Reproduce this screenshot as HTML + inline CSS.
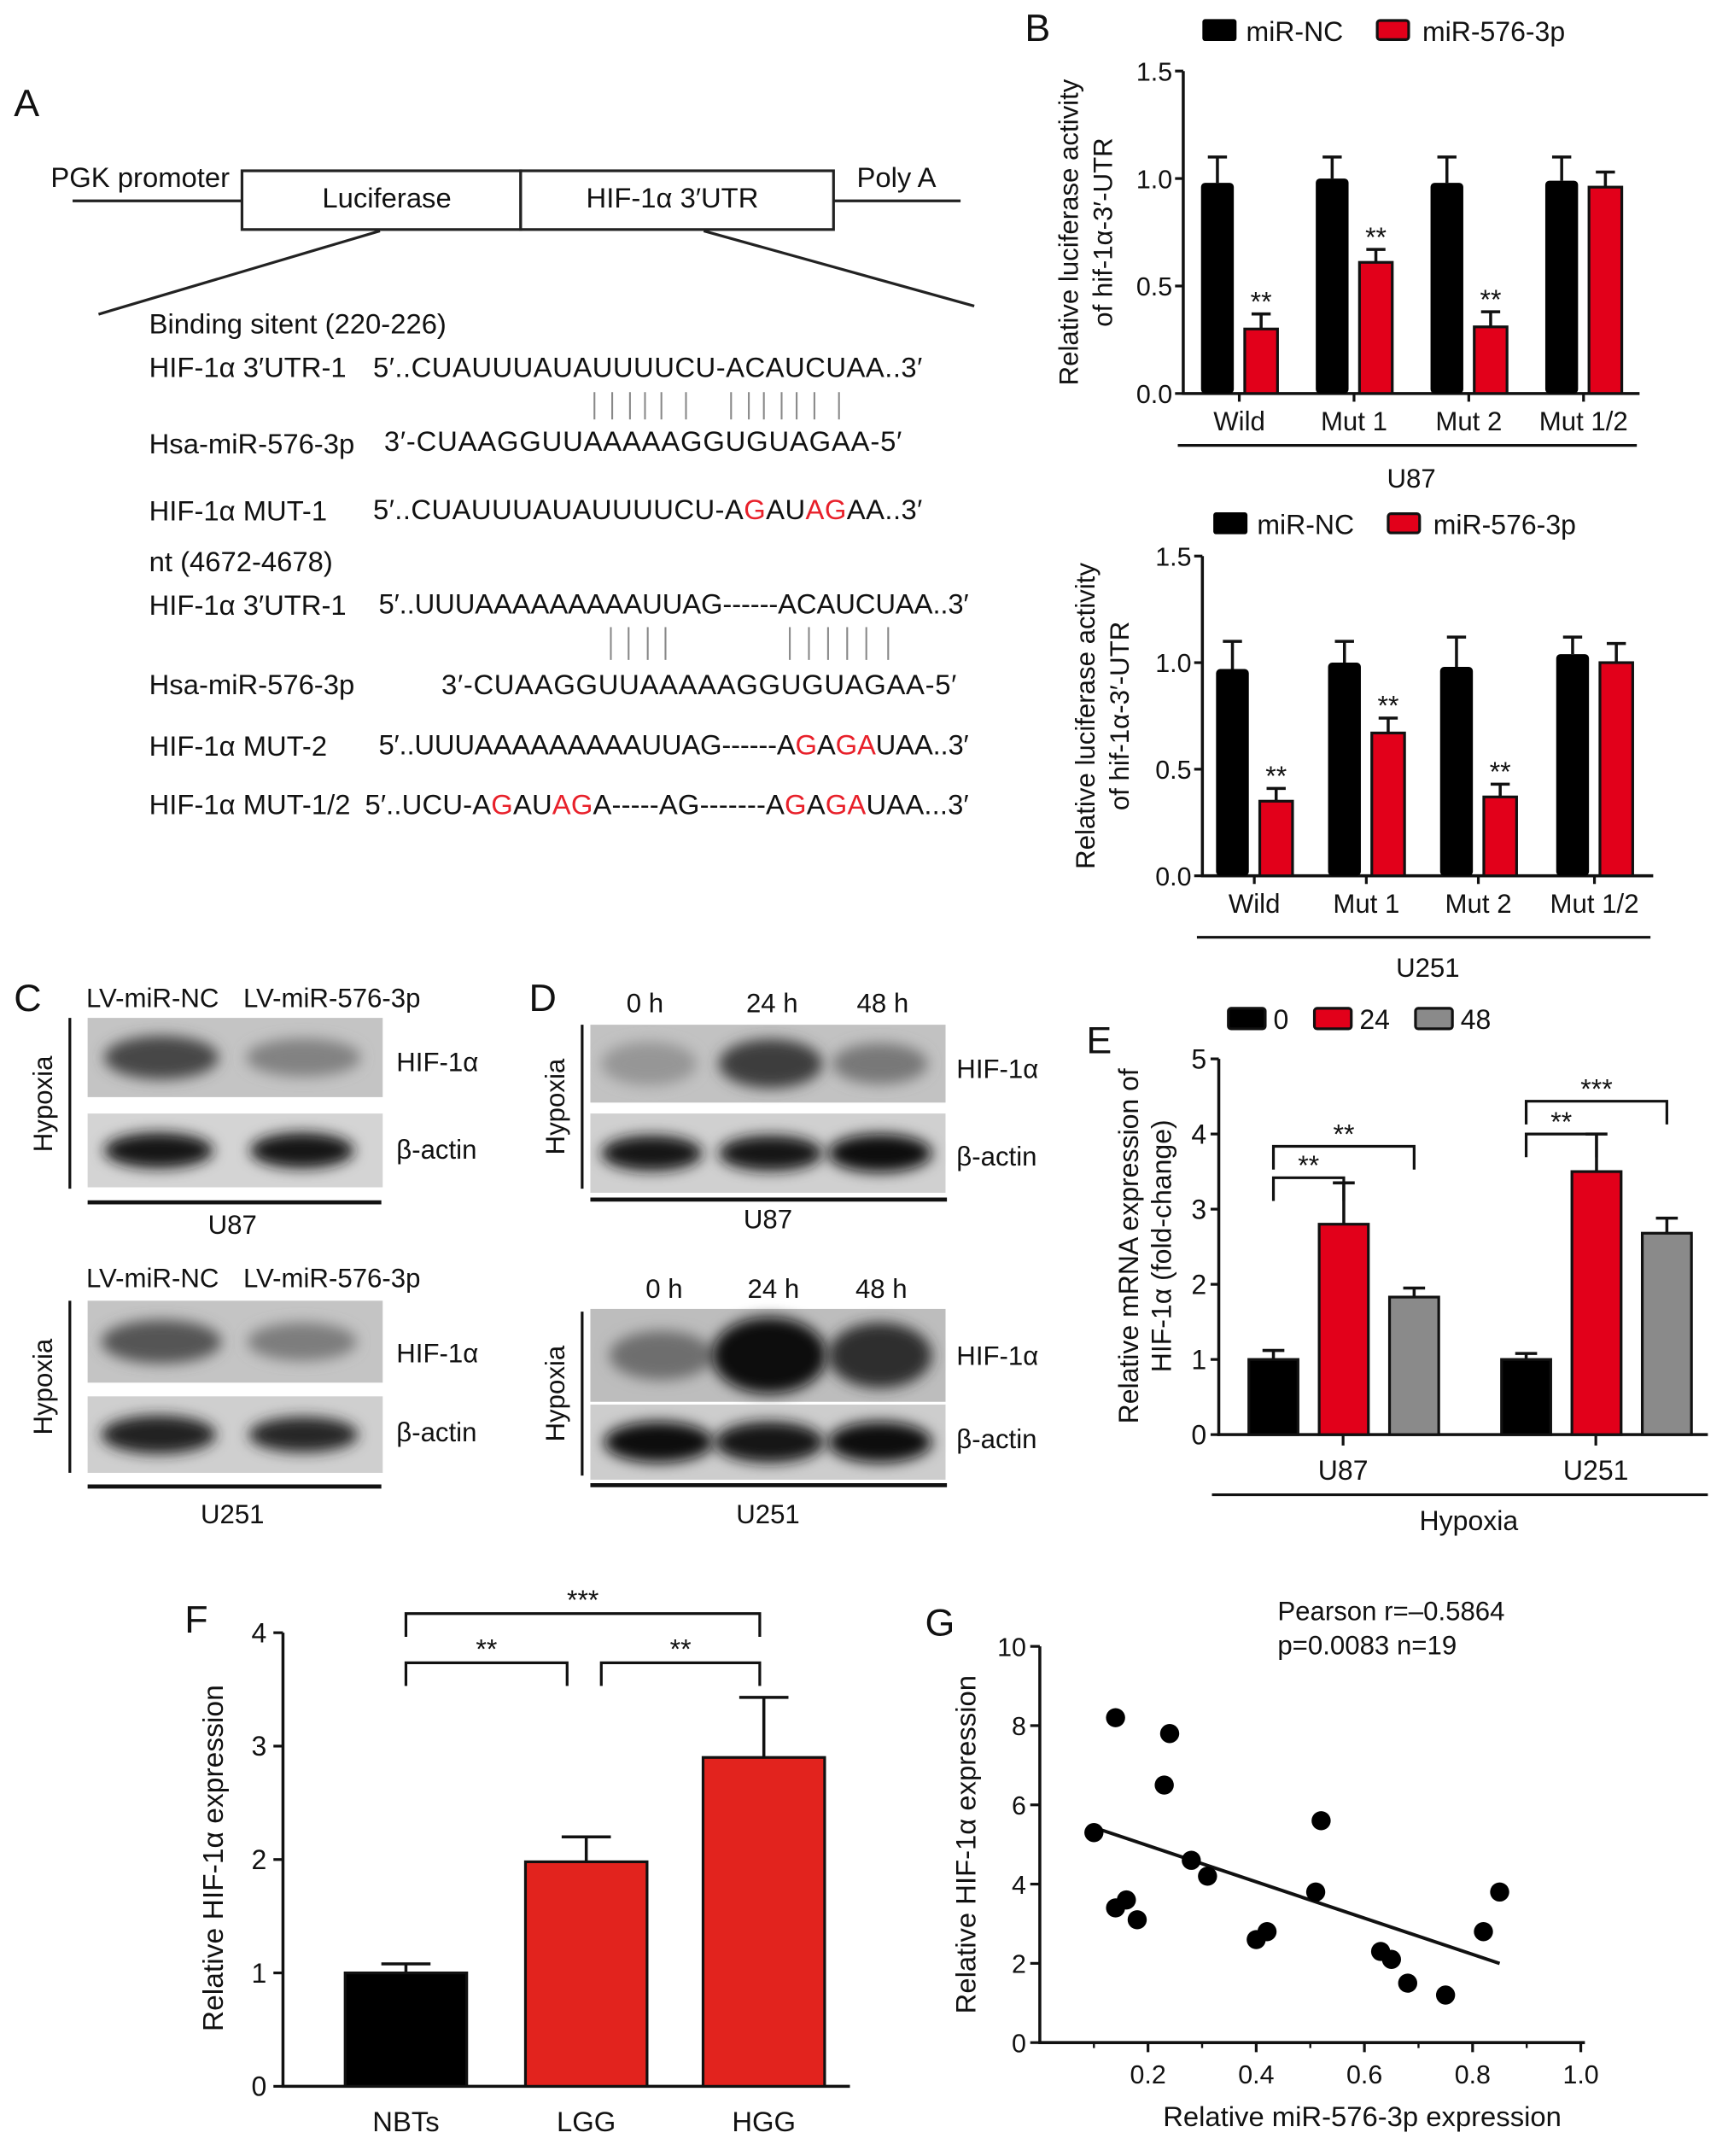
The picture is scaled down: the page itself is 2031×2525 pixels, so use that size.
<!DOCTYPE html>
<html><head><meta charset="utf-8"><style>
html,body{margin:0;padding:0;background:#fff}
svg{display:block}
text{font-family:"Liberation Sans",Arial,sans-serif;fill:#111}
</style></head><body>
<svg id="fig" width="2031" height="2525" viewBox="0 0 1269 1578" xmlns="http://www.w3.org/2000/svg">
<defs>
<filter id="blur4" x="-30%" y="-60%" width="160%" height="220%"><feGaussianBlur stdDeviation="5"/></filter>
</defs>
<g id="panelA" font-size="20.5">
<text x="10" y="85" font-size="28">A</text>
<line x1="53" y1="147" x2="177" y2="147" stroke="#222" stroke-width="2"/>
<line x1="610" y1="147" x2="703" y2="147" stroke="#222" stroke-width="2"/>
<rect x="177" y="125" width="204" height="43" fill="#fff" stroke="#222" stroke-width="2"/>
<rect x="381" y="125" width="229" height="43" fill="#fff" stroke="#222" stroke-width="2"/>
<text x="37" y="137">PGK promoter</text>
<text x="627" y="137">Poly A</text>
<text x="283" y="152" text-anchor="middle">Luciferase</text>
<text x="492" y="152" text-anchor="middle">HIF-1α 3′UTR</text>
<line x1="278" y1="169" x2="72" y2="230" stroke="#222" stroke-width="2"/>
<line x1="515" y1="169" x2="713" y2="224" stroke="#222" stroke-width="2"/>
<text x="109" y="244">Binding sitent (220-226)</text>
<text x="109" y="276">HIF-1α 3′UTR-1</text>
<text x="273" y="276" textLength="402">5′..CUAUUUAUAUUUUCU-ACAUCUAA..3′</text>
<g stroke="#888" stroke-width="1.3">
<line x1="435" y1="287" x2="435" y2="307"/><line x1="448" y1="287" x2="448" y2="307"/><line x1="461" y1="287" x2="461" y2="307"/><line x1="472" y1="287" x2="472" y2="307"/><line x1="484" y1="287" x2="484" y2="307"/><line x1="502" y1="287" x2="502" y2="307"/><line x1="535" y1="287" x2="535" y2="307"/><line x1="548" y1="287" x2="548" y2="307"/><line x1="559" y1="287" x2="559" y2="307"/><line x1="572" y1="287" x2="572" y2="307"/><line x1="583" y1="287" x2="583" y2="307"/><line x1="596" y1="287" x2="596" y2="307"/><line x1="614" y1="287" x2="614" y2="307"/>
</g>
<text x="109" y="332">Hsa-miR-576-3p</text>
<text x="281" y="330" textLength="379">3′-CUAAGGUUAAAAAGGUGUAGAA-5′</text>
<text x="109" y="381">HIF-1α MUT-1</text>
<text x="273" y="380" textLength="402">5′..CUAUUUAUAUUUUCU-A<tspan fill="#e8202a">G</tspan>AU<tspan fill="#e8202a">AG</tspan>AA..3′</text>
<text x="109" y="418">nt (4672-4678)</text>
<text x="109" y="450">HIF-1α 3′UTR-1</text>
<text x="277" y="449" textLength="432">5′..UUUAAAAAAAAAUUAG------ACAUCUAA..3′</text>
<g stroke="#888" stroke-width="1.3">
<line x1="447" y1="459" x2="447" y2="483"/><line x1="460" y1="459" x2="460" y2="483"/><line x1="474" y1="459" x2="474" y2="483"/><line x1="487" y1="459" x2="487" y2="483"/><line x1="578" y1="459" x2="578" y2="483"/><line x1="592" y1="459" x2="592" y2="483"/><line x1="606" y1="459" x2="606" y2="483"/><line x1="620" y1="459" x2="620" y2="483"/><line x1="634" y1="459" x2="634" y2="483"/><line x1="650" y1="459" x2="650" y2="483"/>
</g>
<text x="109" y="508">Hsa-miR-576-3p</text>
<text x="323" y="508" textLength="377">3′-CUAAGGUUAAAAAGGUGUAGAA-5′</text>
<text x="109" y="553">HIF-1α MUT-2</text>
<text x="277" y="552" textLength="432">5′..UUUAAAAAAAAAUUAG------A<tspan fill="#e8202a">G</tspan>A<tspan fill="#e8202a">GA</tspan>UAA..3′</text>
<text x="109" y="596">HIF-1α MUT-1/2</text>
<text x="267" y="596" textLength="442">5′..UCU-A<tspan fill="#e8202a">G</tspan>AU<tspan fill="#e8202a">AG</tspan>A-----AG-------A<tspan fill="#e8202a">G</tspan>A<tspan fill="#e8202a">GA</tspan>UAA...3′</text>
</g>
<g id="charts"></g>
<g id="blots"></g>
</svg>
<script>
// ===== Panel B data =====
var bCategories = ["Wild", "Mut 1", "Mut 2", "Mut 1/2"];
var bSeries = ["miR-NC", "miR-576-3p"];
var bU87NC = [0.98, 1.00, 0.98, 0.99];
var bU87NCErr = [0.12, 0.10, 0.12, 0.11];
var bU87Mir = [0.30, 0.61, 0.31, 0.96];
var bU87MirErr = [0.07, 0.06, 0.07, 0.07];
var bU87Sig = ["**", "**", "**", ""];
var bU251NC = [0.97, 1.00, 0.98, 1.04];
var bU251NCErr = [0.13, 0.10, 0.14, 0.08];
var bU251Mir = [0.35, 0.67, 0.37, 1.00];
var bU251MirErr = [0.06, 0.07, 0.06, 0.09];
var bU251Sig = ["**", "**", "**", ""];
var bTicks = [0, 0.5, 1.0, 1.5];
var bTickLabels = ["0.0", "0.5", "1.0", "1.5"];
// ===== Panel E data =====
var eCategories = ["U87", "U251"];
var eSeries = ["0", "24", "48"];
var eVal0 = [1.0, 1.0];
var eErr0 = [0.12, 0.08];
var eVal24 = [2.8, 3.5];
var eErr24 = [0.55, 0.5];
var eVal48 = [1.83, 2.68];
var eErr48 = [0.12, 0.2];
var eTicks = [0, 1, 2, 3, 4, 5];
// ===== Panel F data =====
var fCategories = ["NBTs", "LGG", "HGG"];
var fValues = [1.0, 1.98, 2.9];
var fErrors = [0.08, 0.22, 0.53];
var fTicks = [0, 1, 2, 3, 4];
// ===== Panel G data =====
var gX = [0.14, 0.24, 0.23, 0.10, 0.52, 0.28, 0.31, 0.14, 0.16, 0.18, 0.40, 0.42, 0.51, 0.63, 0.65, 0.68, 0.75, 0.82, 0.85];
var gY = [8.2, 7.8, 6.5, 5.3, 5.6, 4.6, 4.2, 3.4, 3.6, 3.1, 2.6, 2.8, 3.8, 2.3, 2.1, 1.5, 1.2, 2.8, 3.8];
var gXTicks = [0.2, 0.4, 0.6, 0.8, 1.0];
var gXTickLabels = ["0.2", "0.4", "0.6", "0.8", "1.0"];
var gYTicks = [0, 2, 4, 6, 8, 10];

var NS = "http://www.w3.org/2000/svg";
var root = document.getElementById("charts");
function mk(tag, attrs, parent, txt) {
  var e = document.createElementNS(NS, tag);
  for (var k in attrs) e.setAttribute(k, attrs[k]);
  if (txt !== undefined) e.textContent = txt;
  (parent || root).appendChild(e);
  return e;
}
function grp(name) {
  var g = mk("g", {});
  
  
  return g;
}
var RED = "#e2001a";

function errbar(g, cx, yTop, yErr, cap) {
  mk("line", {x1: cx, y1: yTop, x2: cx, y2: yErr, stroke: "#111", "stroke-width": 2.2}, g);
  mk("line", {x1: cx - cap, y1: yErr, x2: cx + cap, y2: yErr, stroke: "#111", "stroke-width": 2.2}, g);
}

// ===== Panel B =====
function panelB(name, ax, yTop, yBot, xEnd, nc, ncErr, mir, mirErr, sig, centers, legY, legX, underY, cell, cellY, titleX) {
  var g = grp(name);
  var sc = function (v) { return yBot - (yBot - yTop) * v / 1.5; };
  var l1 = mk("rect", {x: legX, y: legY, width: 25, height: 16, fill: "#000", rx: 2}, g);
   
  var t1 = mk("text", {x: legX + 32, y: legY + 16, "font-size": 20}, g, bSeries[0]);
   
  var l2 = mk("rect", {x: legX + 128, y: legY + 1, width: 23, height: 14, fill: RED, stroke: "#111", "stroke-width": 2, rx: 2}, g);
   
  var t2 = mk("text", {x: legX + 161, y: legY + 16, "font-size": 20}, g, bSeries[1]);
   
  mk("line", {x1: ax, y1: yTop, x2: ax, y2: yBot + 1, stroke: "#111", "stroke-width": 2.2}, g);
  mk("line", {x1: ax - 1, y1: yBot, x2: xEnd, y2: yBot, stroke: "#111", "stroke-width": 2.2}, g);
  bTicks.forEach(function (t, i) {
    mk("line", {x1: ax - 6, y1: sc(t), x2: ax, y2: sc(t), stroke: "#111", "stroke-width": 2}, g);
    var tl = mk("text", {x: ax - 8, y: sc(t) + 7, "text-anchor": "end", "font-size": 19}, g, bTickLabels[i]);
     
  });
  var bw = 24;
  bCategories.forEach(function (c, i) {
    var cx = centers[i];
    var x1 = cx - bw - 4, x2 = cx + 4;
    var r1 = mk("rect", {x: x1, y: sc(nc[i]), width: bw, height: yBot - sc(nc[i]), fill: "#000", rx: 3}, g);
     
    errbar(g, x1 + bw / 2, sc(nc[i]), sc(nc[i] + ncErr[i]), 7);
    errbar(g, x2 + bw / 2, sc(mir[i]), sc(mir[i] + mirErr[i]), 7);
    var r2 = mk("rect", {x: x2, y: sc(mir[i]), width: bw, height: yBot - sc(mir[i]), fill: RED, stroke: "#111", "stroke-width": 2}, g);
     
    if (sig[i]) {
      var s = mk("text", {x: x2 + bw / 2, y: sc(mir[i] + mirErr[i]) - 2, "text-anchor": "middle", "font-size": 20}, g, sig[i]);
       
    }
    mk("line", {x1: cx, y1: yBot, x2: cx, y2: yBot + 6, stroke: "#111", "stroke-width": 2}, g);
    var cl = mk("text", {x: cx, y: yBot + 27, "text-anchor": "middle", "font-size": 19.5}, g, c);
     
  });
  mk("line", {x1: ax - 4, y1: underY, x2: xEnd - 2, y2: underY, stroke: "#111", "stroke-width": 2}, g);
  var ct = mk("text", {x: (ax + xEnd) / 2, y: cellY, "text-anchor": "middle", "font-size": 19.5}, g, cell);
   
  var cy = (yTop + yBot) / 2;
  var y1 = mk("text", {x: titleX, y: cy, "text-anchor": "middle", "font-size": 19.5, transform: "rotate(-90 " + titleX + " " + cy + ")"}, g, "Relative luciferase activity");
   
  var y2 = mk("text", {x: titleX + 25, y: cy, "text-anchor": "middle", "font-size": 19.5, transform: "rotate(-90 " + (titleX + 25) + " " + cy + ")"}, g, "of hif-1α-3′-UTR");
   
}
var bl = mk("text", {x: 750, y: 30, "font-size": 28});
bl.textContent = "B";
 
panelB("chart-b-u87", 866, 52, 288, 1200, bU87NC, bU87NCErr, bU87Mir, bU87MirErr, bU87Sig, [907, 991, 1075, 1159], 14, 880, 326, "U87", 357, 789);
panelB("chart-b-u251", 880, 407, 641, 1210, bU251NC, bU251NCErr, bU251Mir, bU251MirErr, bU251Sig, [918, 1000, 1082, 1167], 375, 888, 686, "U251", 715, 801);

// ===== Panel E =====
(function () {
  var g = grp("chart-e-mrna");
  var ax = 892, yTop = 775, yBot = 1050, xEnd = 1250;
  var sc = function (v) { return yBot - (yBot - yTop) * v / 5; };
  var lab = mk("text", {x: 795, y: 771, "font-size": 28}, g, "E");
   
  var cols = ["#000", RED, "#8a8a8a"];
  var lx = [899, 962, 1036];
  eSeries.forEach(function (s, i) {
    var r = mk("rect", {x: lx[i], y: 738, width: 27, height: 15, fill: cols[i], stroke: "#111", "stroke-width": 2, rx: 2}, g);
     
    var t = mk("text", {x: lx[i] + 33, y: 753, "font-size": 20}, g, s);
     
  });
  mk("line", {x1: ax, y1: yTop, x2: ax, y2: yBot + 1, stroke: "#111", "stroke-width": 2.2}, g);
  mk("line", {x1: ax - 1, y1: yBot, x2: xEnd, y2: yBot, stroke: "#111", "stroke-width": 2.2}, g);
  eTicks.forEach(function (t) {
    mk("line", {x1: ax - 6, y1: sc(t), x2: ax, y2: sc(t), stroke: "#111", "stroke-width": 2}, g);
    var tl = mk("text", {x: ax - 9, y: sc(t) + 7, "text-anchor": "end", "font-size": 20}, g, String(t));
     
  });
  var centers = [983, 1168];
  var vals = [eVal0, eVal24, eVal48], errs = [eErr0, eErr24, eErr48];
  eCategories.forEach(function (c, i) {
    var cx = centers[i];
    var tops = [];
    for (var k = 0; k < 3; k++) {
      var x = cx - 69 + k * 51.5, w = 36, v = vals[k][i];
      errbar(g, x + w / 2, sc(v), sc(v + errs[k][i]), 8);
      var r = mk("rect", {x: x, y: sc(v), width: w, height: yBot - sc(v), fill: cols[k], stroke: "#111", "stroke-width": 2}, g);
       
      tops.push({x: x + w / 2, y: sc(v + errs[k][i])});
    }
    mk("line", {x1: cx, y1: yBot, x2: cx, y2: yBot + 8, stroke: "#111", "stroke-width": 2}, g);
    var cl = mk("text", {x: cx, y: yBot + 33, "text-anchor": "middle", "font-size": 20}, g, c);
     
    var br = [[tops[0].x, tops[1].x, i === 0 ? 862 : 830, "**"], [tops[0].x, tops[2].x, i === 0 ? 839 : 806, i === 0 ? "**" : "***"]];
    br.forEach(function (b) {
      var p = mk("path", {d: "M" + b[0] + " " + (b[2] + 17) + "V" + b[2] + "H" + b[1] + "V" + (b[2] + 17), fill: "none", stroke: "#111", "stroke-width": 2}, g);
       
      var st = mk("text", {x: (b[0] + b[1]) / 2, y: b[2] - 2, "text-anchor": "middle", "font-size": 20}, g, b[3]);
       
    });
  });
  mk("line", {x1: 887, y1: 1094, x2: 1250, y2: 1094, stroke: "#111", "stroke-width": 2}, g);
  var h = mk("text", {x: 1075, y: 1120, "text-anchor": "middle", "font-size": 20}, g, "Hypoxia");
   
  var cy = 912;
  var y1 = mk("text", {x: 833, y: cy, "text-anchor": "middle", "font-size": 20, transform: "rotate(-90 833 " + cy + ")"}, g, "Relative mRNA expression of");
   
  var y2 = mk("text", {x: 857, y: cy, "text-anchor": "middle", "font-size": 20, transform: "rotate(-90 857 " + cy + ")"}, g, "HIF-1α (fold-change)");
   
})();

// ===== Panel F =====
(function () {
  var g = grp("chart-f-tissue");
  var ax = 207, yTop = 1195, yBot = 1527, xEnd = 622;
  var sc = function (v) { return yBot - (yBot - yTop) * v / 4; };
  var lab = mk("text", {x: 135, y: 1195, "font-size": 28}, g, "F");
   
  mk("line", {x1: ax, y1: yTop, x2: ax, y2: yBot + 1, stroke: "#111", "stroke-width": 2.2}, g);
  mk("line", {x1: ax - 1, y1: yBot, x2: xEnd, y2: yBot, stroke: "#111", "stroke-width": 2.2}, g);
  fTicks.forEach(function (t) {
    mk("line", {x1: ax - 7, y1: sc(t), x2: ax, y2: sc(t), stroke: "#111", "stroke-width": 2}, g);
    var tl = mk("text", {x: ax - 12, y: sc(t) + 7, "text-anchor": "end", "font-size": 20}, g, String(t));
     
  });
  var centers = [297, 429, 559];
  fCategories.forEach(function (c, i) {
    var w = 89, x = centers[i] - w / 2, v = fValues[i];
    errbar(g, centers[i], sc(v), sc(v + fErrors[i]), 18);
    var r = mk("rect", {x: x, y: sc(v), width: w, height: yBot - sc(v), fill: i === 0 ? "#000" : "#e2231e", stroke: "#111", "stroke-width": 2}, g);
     
    var cl = mk("text", {x: centers[i], y: yBot + 33, "text-anchor": "middle", "font-size": 20.5}, g, c);
     
  });
  var br = [[297, 415, 1217, "**"], [440, 556, 1217, "**"], [297, 556, 1181, "***"]];
  br.forEach(function (b) {
    var p = mk("path", {d: "M" + b[0] + " " + (b[2] + 17) + "V" + b[2] + "H" + b[1] + "V" + (b[2] + 17), fill: "none", stroke: "#111", "stroke-width": 2}, g);
     
    var st = mk("text", {x: (b[0] + b[1]) / 2, y: b[2] - 3, "text-anchor": "middle", "font-size": 20}, g, b[3]);
     
  });
  var yt = mk("text", {x: 163, y: 1360, "text-anchor": "middle", "font-size": 21, transform: "rotate(-90 163 1360)"}, g, "Relative HIF-1α expression");
   
})();

// ===== Panel G =====
(function () {
  var g = grp("chart-g-correlation");
  var ax = 761, yTop = 1205, yBot = 1495, xEnd = 1160;
  var sx = function (v) { return ax + 396 * v; };
  var sy = function (v) { return yBot - (yBot - yTop) * v / 10; };
  var lab = mk("text", {x: 677, y: 1197, "font-size": 28}, g, "G");
   
  mk("line", {x1: ax, y1: yTop, x2: ax, y2: yBot + 1, stroke: "#111", "stroke-width": 2.2}, g);
  mk("line", {x1: ax - 1, y1: yBot, x2: xEnd, y2: yBot, stroke: "#111", "stroke-width": 2.2}, g);
  gYTicks.forEach(function (t) {
    mk("line", {x1: ax - 7, y1: sy(t), x2: ax, y2: sy(t), stroke: "#111", "stroke-width": 2}, g);
    var tl = mk("text", {x: ax - 10, y: sy(t) + 7, "text-anchor": "end", "font-size": 19}, g, String(t));
     
  });
  gXTicks.forEach(function (t, i) {
    mk("line", {x1: sx(t), y1: yBot, x2: sx(t), y2: yBot + 7, stroke: "#111", "stroke-width": 2}, g);
    mk("line", {x1: sx(t - 0.1), y1: yBot, x2: sx(t - 0.1), y2: yBot + 4, stroke: "#111", "stroke-width": 1.5}, g);
    var tl = mk("text", {x: sx(t), y: yBot + 30, "text-anchor": "middle", "font-size": 19}, g, gXTickLabels[i]);
     
  });
  var n = gX.length, mx = 0, my = 0;
  for (var i = 0; i < n; i++) { mx += gX[i]; my += gY[i]; }
  mx /= n; my /= n;
  var sxy = 0, sxx = 0;
  for (i = 0; i < n; i++) { sxy += (gX[i] - mx) * (gY[i] - my); sxx += (gX[i] - mx) * (gX[i] - mx); }
  var slope = sxy / sxx, icpt = my - slope * mx;
  var xmin = Math.min.apply(null, gX), xmax = Math.max.apply(null, gX);
  var rl = mk("line", {x1: sx(xmin), y1: sy(icpt + slope * xmin), x2: sx(xmax), y2: sy(icpt + slope * xmax), stroke: "#111", "stroke-width": 2.5}, g);
   
  for (i = 0; i < n; i++) {
    var c = mk("circle", {cx: sx(gX[i]), cy: sy(gY[i]), r: 7, fill: "#000"}, g);
     
  }
  var p1 = mk("text", {x: 935, y: 1186, "font-size": 19.5}, g, "Pearson r=–0.5864");
   
  var p2 = mk("text", {x: 935, y: 1211, "font-size": 19.5}, g, "p=0.0083 n=19");
   
  var xt = mk("text", {x: 997, y: 1556, "text-anchor": "middle", "font-size": 20.5}, g, "Relative miR-576-3p expression");
   
  var yt = mk("text", {x: 714, y: 1350, "text-anchor": "middle", "font-size": 20.5, transform: "rotate(-90 714 1350)"}, g, "Relative HIF-1α expression");
   
})();

// ===== Western blots (C, D) =====
var broot = document.getElementById("blots");
function blot(name, x, y, w, h, lanes, bg) {
  var g = mk("g", {}, broot);
  
  
  mk("rect", {x: x, y: y, width: w, height: h, fill: bg}, g);
  lanes.forEach(function (l) {
    mk("ellipse", {cx: x + l[0], cy: y + h / 2, rx: l[1], ry: l[2], fill: "rgb(" + l[3] + "," + l[3] + "," + l[3] + ")", filter: "url(#blur4)"}, g);
  });
}
function txt(name, x, y, s, size, anchor, rot) {
  var a = {x: x, y: y, "font-size": size || 19.5};
  if (anchor) a["text-anchor"] = anchor;
  if (rot) a.transform = "rotate(-90 " + x + " " + y + ")";
  var t = mk("text", a, broot, s);
  
  
}
function ln(x1, y1, x2, y2, w) { mk("line", {x1: x1, y1: y1, x2: x2, y2: y2, stroke: "#111", "stroke-width": w || 2}, broot); }

txt("panel-label-c", 10, 740, "C", 28);
txt("lane-label-nc", 63, 737, "LV-miR-NC"); txt("lane-label-mir", 178, 737, "LV-miR-576-3p");
blot("blot-c-u87-hif", 64, 745, 216, 58, [[54, 42, 16, 70], [158, 42, 14, 130]], "#c4c4c4");
blot("blot-c-u87-actin", 64, 815, 216, 54, [[52, 40, 13, 20], [157, 38, 13, 25]], "#d4d4d4");
ln(51, 745, 51, 870, 2); txt("hypoxia-c1", 38, 808, "Hypoxia", 19.5, "middle", true);
txt("hif-label-c1", 290, 784, "HIF-1α"); txt("actin-label-c1", 290, 848, "β-actin");
ln(64, 880, 279, 880, 3); txt("cell-label-c1", 170, 903, "U87", 19.5, "middle");
txt("lane-label-nc-2", 63, 942, "LV-miR-NC"); txt("lane-label-mir-2", 178, 942, "LV-miR-576-3p");
blot("blot-c-u251-hif", 64, 952, 216, 60, [[54, 44, 16, 85], [157, 40, 14, 125]], "#c4c4c4");
blot("blot-c-u251-actin", 64, 1022, 216, 56, [[52, 42, 14, 35], [158, 40, 13, 40]], "#cfcfcf");
ln(51, 952, 51, 1078, 2); txt("hypoxia-c2", 38, 1015, "Hypoxia", 19.5, "middle", true);
txt("hif-label-c2", 290, 997, "HIF-1α"); txt("actin-label-c2", 290, 1055, "β-actin");
ln(64, 1088, 279, 1088, 3); txt("cell-label-c2", 170, 1115, "U251", 19.5, "middle");

txt("panel-label-d", 387, 740, "D", 28);
txt("time-0h", 472, 741, "0 h", 19.5, "middle"); txt("time-24h", 565, 741, "24 h", 19.5, "middle"); txt("time-48h", 646, 741, "48 h", 19.5, "middle");
blot("blot-d-u87-hif", 432, 750, 260, 57, [[43, 35, 16, 150], [132, 38, 18, 60], [212, 35, 15, 120]], "#c2c2c2");
blot("blot-d-u87-actin", 432, 815, 260, 58, [[45, 37, 13, 25], [132, 38, 13, 20], [212, 38, 14, 15]], "#d0d0d0");
ln(426, 750, 426, 870, 2); txt("hypoxia-d1", 413, 810, "Hypoxia", 19.5, "middle", true);
txt("hif-label-d1", 700, 789, "HIF-1α"); txt("actin-label-d1", 700, 853, "β-actin");
ln(432, 878, 693, 878, 3); txt("cell-label-d1", 562, 899, "U87", 19.5, "middle");
txt("time-0h-2", 486, 950, "0 h", 19.5, "middle"); txt("time-24h-2", 566, 950, "24 h", 19.5, "middle"); txt("time-48h-2", 645, 950, "48 h", 19.5, "middle");
blot("blot-d-u251-hif", 432, 958, 260, 68, [[52, 38, 18, 110], [131, 42, 28, 10], [212, 38, 24, 45]], "#bdbdbd");
blot("blot-d-u251-actin", 432, 1028, 260, 55, [[50, 40, 15, 15], [131, 40, 15, 20], [212, 38, 15, 15]], "#cdcdcd");
ln(426, 960, 426, 1080, 2); txt("hypoxia-d2", 413, 1020, "Hypoxia", 19.5, "middle", true);
txt("hif-label-d2", 700, 999, "HIF-1α"); txt("actin-label-d2", 700, 1060, "β-actin");
ln(432, 1087, 693, 1087, 3); txt("cell-label-d2", 562, 1115, "U251", 19.5, "middle");
</script>
</body></html>
